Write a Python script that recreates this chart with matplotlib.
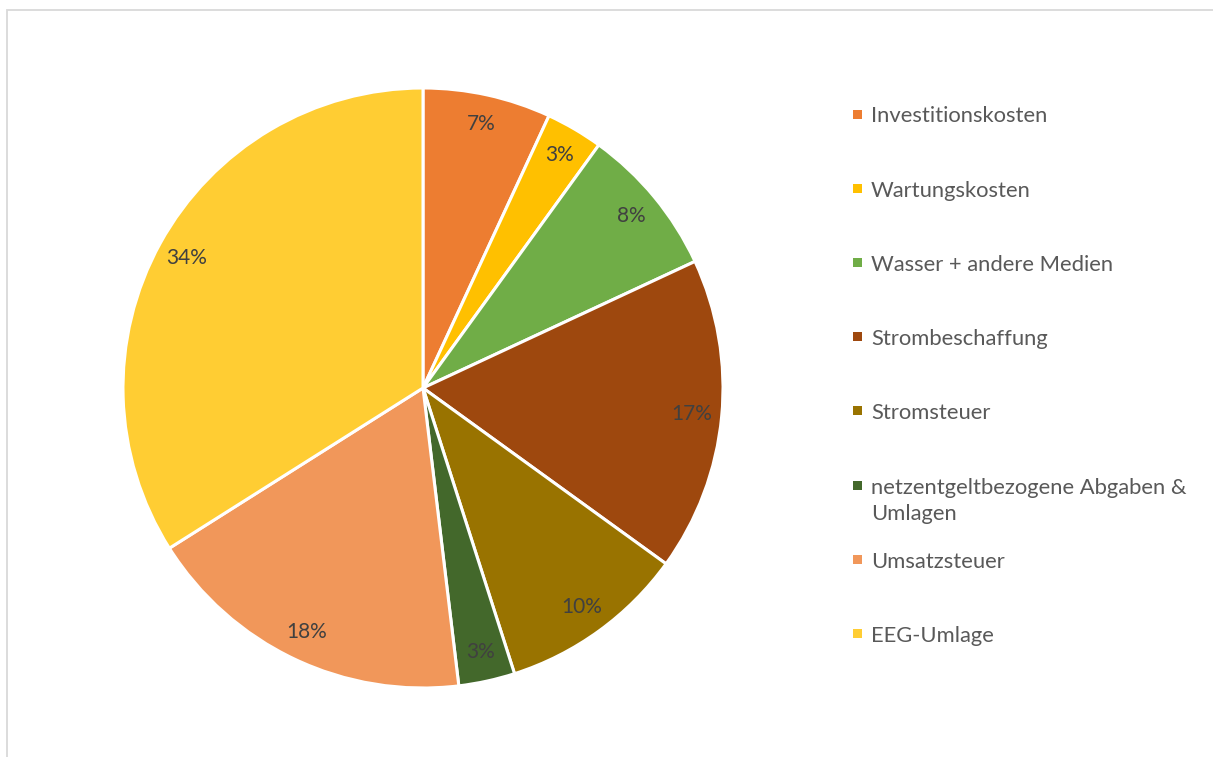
import matplotlib
matplotlib.use('Agg')
import matplotlib.pyplot as plt
from matplotlib.patches import Rectangle

plt.rcParams['font.family'] = ['Lato', 'DejaVu Sans']

labels = ['Investitionskosten', 'Wartungskosten', 'Wasser + andere Medien',
          'Strombeschaffung', 'Stromsteuer',
          'netzentgeltbezogene Abgaben &\nUmlagen', 'Umsatzsteuer', 'EEG-Umlage']
values = [6.9, 3.07, 8.1, 16.9, 10.1, 3.03, 17.94, 33.97]
colors = ['#ED7D31', '#FFC000', '#70AD47', '#9E480E', '#997300',
          '#43682B', '#F1975A', '#FFCD33']

W, H = 1213, 757
fig = plt.figure(figsize=(W / 100, H / 100), dpi=100)

# light chart border (only top/left visible in the crop)
fig.patches.append(Rectangle((7 / W, -0.1), 1.2, 1 - 10 / H + 0.1,
                             transform=fig.transFigure, fill=False,
                             edgecolor='#D9D9D9', linewidth=1.3))

ax = fig.add_axes([123 / W, 69 / H, 600 / W, 600 / H])
wedges, texts, autotexts = ax.pie(
    values, colors=colors, startangle=90, counterclock=False, radius=1,
    autopct=lambda p: '%.0f%%' % p, pctdistance=0.9,
    wedgeprops=dict(edgecolor='white', linewidth=2.2),
    textprops=dict(color='#404040', fontsize=15))
ax.set_xlim(-1, 1)
ax.set_ylim(-1, 1)
ax.set_aspect('equal')
ax.axis('off')

# legend, Excel style: evenly spaced entries
y0, step = 114, 74.2
for i, (lab, col) in enumerate(zip(labels, colors)):
    yc = y0 + i * step
    fig.patches.append(Rectangle((853 / W, 1 - (yc + 4.5) / H), 9 / W, 9 / H,
                                 transform=fig.transFigure, facecolor=col,
                                 edgecolor='none'))
    fig.text(871 / W, 1 - (yc - 7.5) / H, lab, fontsize=15.8, color='#595959',
             va='top', ha='left', linespacing=1.42)

fig.savefig('out.png', dpi=100)
